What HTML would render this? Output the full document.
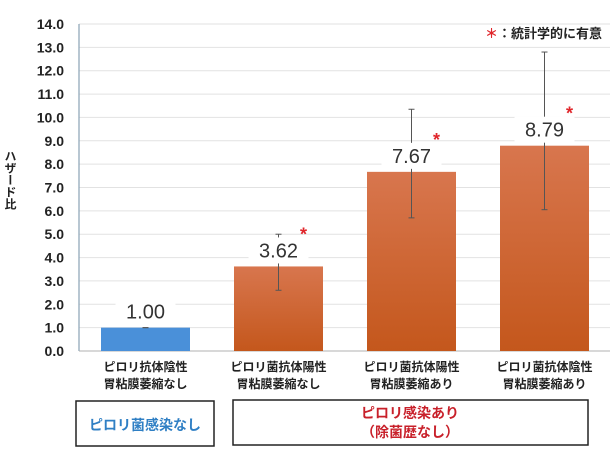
<!DOCTYPE html>
<html><head><meta charset="utf-8"><style>
body{margin:0;background:#fff;width:610px;height:450px;overflow:hidden;font-family:"Liberation Sans","Noto Sans CJK JP",sans-serif;}
</style></head><body>
<svg width="610" height="450" xmlns="http://www.w3.org/2000/svg" style="font-family:'Liberation Sans','Noto Sans CJK JP',sans-serif">
<defs>
<linearGradient id="og" x1="0" y1="0" x2="0" y2="1"><stop offset="0" stop-color="#d8764e"/><stop offset="1" stop-color="#c4571c"/></linearGradient>
</defs>
<g id="grid"></g>
<g id="yt"></g>
<line x1="79" y1="24" x2="79" y2="351" stroke="#8aa2b4" stroke-width="1.2"/>
<line x1="79" y1="351" x2="610" y2="351" stroke="#b0b0b0" stroke-width="1"/>
<text transform="translate(10,150)" font-size="12" font-weight="bold" fill="#222" style="writing-mode:vertical-rl">ハザード比</text>
<g id="bars"></g>
<g id="cats"></g>
<text x="602" y="38" font-size="13" font-weight="bold" fill="#222" text-anchor="end"><tspan fill="#e0262b">＊</tspan>：統計学的に有意</text>
<rect x="76" y="401" width="138" height="45" fill="#fff" stroke="#222" stroke-width="1.5"/>
<text x="145" y="430" font-size="14" font-weight="bold" fill="#2f7fc4" text-anchor="middle">ピロリ菌感染なし</text>
<rect x="233" y="400" width="355" height="45" fill="#fff" stroke="#222" stroke-width="1.5"/>
<text x="410" y="418" font-size="14" font-weight="bold" fill="#c8202a" text-anchor="middle">ピロリ感染あり</text>
<text x="410" y="437" font-size="14" font-weight="bold" fill="#c8202a" text-anchor="middle">（除菌歴なし）</text>
</svg>
<script>
const categories1=["ピロリ抗体陰性","ピロリ菌抗体陽性","ピロリ菌抗体陽性","ピロリ菌抗体陰性"];
const categories2=["胃粘膜萎縮なし","胃粘膜萎縮なし","胃粘膜萎縮あり","胃粘膜萎縮あり"];
const values=[1.00,3.62,7.67,8.79];
const errLow=[1.0,2.6,5.7,6.05];
const errHigh=[1.0,5.0,10.35,12.8];
const significant=[false,true,true,true];
const yTicks=[0,1,2,3,4,5,6,7,8,9,10,11,12,13,14];
const NS="http://www.w3.org/2000/svg";
const y0=351,yTop=24,yMax=14,x0=79,step=133;
function y(v){return y0-(v/yMax)*(y0-yTop);}
function xc(i){return x0+step*(i+0.5);}
function mk(tag,attrs,parent){const e=document.createElementNS(NS,tag);for(const k in attrs)e.setAttribute(k,attrs[k]);parent.appendChild(e);return e;}
const grid=document.getElementById('grid'),yt=document.getElementById('yt'),bars=document.getElementById('bars'),cats=document.getElementById('cats');
yTicks.forEach(t=>{
 const l=mk('line',{x1:x0,x2:610,y1:y(t),y2:y(t),stroke:'#e2e2e2','stroke-width':1},grid);
 
 
 const tx=mk('text',{x:64,y:y(t)+5,'font-size':14,'font-weight':'bold',fill:'#222','text-anchor':'end'},yt);
 tx.textContent=t.toFixed(1);
 
 
});
values.forEach((v,i)=>{
 const c=xc(i),w=89;
 const r=mk('rect',{x:c-w/2,y:y(v),width:w,height:y0-y(v),fill:i===0?'#4a90d9':'url(#og)'},bars);
 
 
 const e=mk('line',{x1:c,x2:c,y1:y(errHigh[i]),y2:y(errLow[i]),stroke:'#555','stroke-width':1},bars);
 
 
 [errHigh[i],errLow[i]].forEach(ev=>{const cap=mk('line',{x1:c-3,x2:c+3,y1:y(ev),y2:y(ev),stroke:'#555','stroke-width':1},bars);
 
 });
 const ly=y(v)-16;
 const bg=mk('rect',{x:c-30,y:ly-13,width:60,height:26,fill:'#fff'},bars);
 
 
 const t=mk('text',{x:c,y:ly+7,'font-size':20,fill:'#333','text-anchor':'middle'},bars);
 t.textContent=v.toFixed(2);
 
 
 if(significant[i]){const s=mk('text',{x:c+25,y:ly-10,'font-size':18,'font-weight':'bold',fill:'#e0262b','text-anchor':'middle'},bars);
 s.textContent='*';
 
 }
 const a=mk('text',{x:c,y:371,'font-size':12,'font-weight':'bold',fill:'#222','text-anchor':'middle'},cats);
 a.textContent=categories1[i];
 
 
 const b=mk('text',{x:c,y:388,'font-size':12,'font-weight':'bold',fill:'#222','text-anchor':'middle'},cats);
 b.textContent=categories2[i];
 
 
});
</script>
</body></html>
